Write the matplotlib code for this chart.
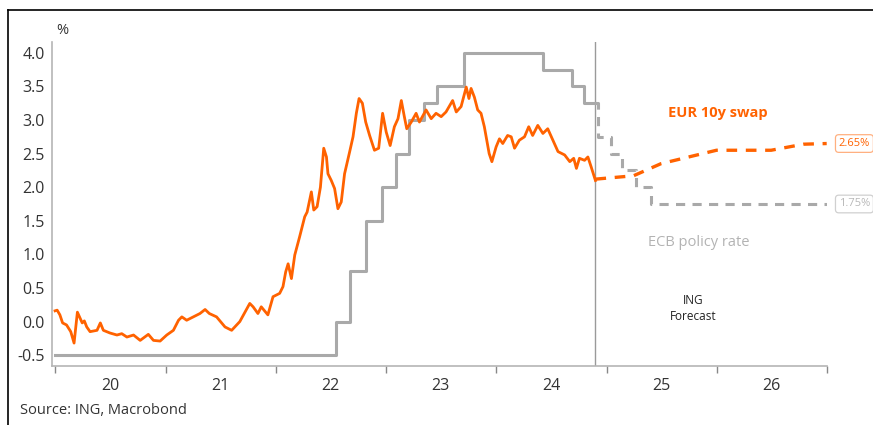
import matplotlib
matplotlib.use("Agg")
import matplotlib.pyplot as plt
import pandas as pd

plt.rcParams["font.family"] = ["Open Sans", "DejaVu Sans"]

# EUR 10y swap (history)
swap_dates = [
    "2020-01-01", "2020-01-08", "2020-01-17", "2020-01-26", "2020-02-08", "2020-02-22",
    "2020-03-04", "2020-03-15", "2020-03-24", "2020-03-31", "2020-04-07", "2020-04-15",
    "2020-04-26", "2020-05-19", "2020-05-30", "2020-06-09", "2020-07-01", "2020-07-24",
    "2020-08-09", "2020-08-26", "2020-09-17", "2020-10-09", "2020-11-05", "2020-11-22",
    "2020-12-14", "2021-01-05", "2021-01-27", "2021-02-13", "2021-02-24", "2021-03-12",
    "2021-04-03", "2021-04-25", "2021-05-12", "2021-05-26", "2021-06-19", "2021-07-17",
    "2021-08-08", "2021-09-04", "2021-10-07", "2021-10-18", "2021-11-03", "2021-11-14",
    "2021-12-06", "2021-12-23", "2022-01-14", "2022-01-25", "2022-02-03", "2022-02-11",
    "2022-02-22", "2022-03-05", "2022-03-21", "2022-04-07", "2022-04-15", "2022-04-29",
    "2022-05-07", "2022-05-18", "2022-05-29", "2022-06-09", "2022-06-18", "2022-06-23",
    "2022-07-04", "2022-07-15", "2022-07-26", "2022-08-06", "2022-08-17", "2022-09-03",
    "2022-09-14", "2022-09-25", "2022-10-04", "2022-10-15", "2022-10-26", "2022-11-08",
    "2022-11-24", "2022-12-08", "2022-12-21", "2023-01-02", "2023-01-15", "2023-01-29",
    "2023-02-10", "2023-02-21", "2023-03-03", "2023-03-11", "2023-03-26", "2023-04-11",
    "2023-04-22", "2023-05-14", "2023-05-31", "2023-06-16", "2023-07-03", "2023-07-19",
    "2023-08-10", "2023-08-22", "2023-09-07", "2023-09-24", "2023-10-03", "2023-10-10",
    "2023-10-21", "2023-11-01", "2023-11-12", "2023-11-23", "2023-12-01", "2023-12-09",
    "2023-12-18", "2024-01-01", "2024-01-12", "2024-01-23", "2024-02-08", "2024-02-20",
    "2024-03-02", "2024-03-18", "2024-04-04", "2024-04-18", "2024-05-01", "2024-05-18",
    "2024-06-04", "2024-06-20", "2024-07-07", "2024-07-24", "2024-08-15", "2024-09-01",
    "2024-09-14", "2024-09-23", "2024-10-03", "2024-10-20", "2024-10-31", "2024-11-11",
    "2024-11-25",
]
swap_values = [
    0.16, 0.17, 0.10, -0.02, -0.05, -0.15,
    -0.32, 0.14, 0.05, -0.02, 0.01, -0.08,
    -0.15, -0.13, -0.02, -0.13, -0.17, -0.20,
    -0.18, -0.23, -0.20, -0.28, -0.19, -0.28,
    -0.29, -0.20, -0.13, 0.02, 0.07, 0.02,
    0.07, 0.12, 0.18, 0.12, 0.07, -0.08,
    -0.13, 0.00, 0.27, 0.22, 0.12, 0.22,
    0.10, 0.37, 0.42, 0.52, 0.74, 0.86,
    0.64, 0.99, 1.26, 1.56, 1.63, 1.93,
    1.66, 1.71, 2.00, 2.58, 2.45, 2.20,
    2.10, 1.98, 1.68, 1.78, 2.20, 2.53,
    2.75, 3.10, 3.32, 3.25, 2.97, 2.77,
    2.55, 2.58, 3.10, 2.82, 2.62, 2.90,
    3.02, 3.29, 3.05, 2.87, 2.97, 3.10,
    2.97, 3.15, 3.02, 3.10, 3.05, 3.12,
    3.29, 3.12, 3.20, 3.49, 3.32, 3.47,
    3.34, 3.15, 3.10, 2.90, 2.70, 2.50,
    2.38, 2.60, 2.72, 2.65, 2.77, 2.75,
    2.58, 2.70, 2.75, 2.90, 2.77, 2.92,
    2.80, 2.87, 2.70, 2.53, 2.48, 2.38,
    2.43, 2.28, 2.43, 2.40, 2.45, 2.30,
    2.10,
]

# EUR 10y swap (ING forecast)
swap_fc_dates = ["2024-11-25", "2025-03-31", "2025-06-30", "2025-09-30", "2025-12-31",
                 "2026-06-30", "2026-10-15", "2026-12-31"]
swap_fc_values = [2.12, 2.17, 2.35, 2.45, 2.55, 2.55, 2.64, 2.65]

# ECB deposit rate (history, step changes)
ecb_dates = ["2020-01-01", "2022-07-20", "2022-09-05", "2022-10-28", "2022-12-18",
             "2023-02-05", "2023-03-20", "2023-05-08", "2023-06-18", "2023-09-15",
             "2024-06-05", "2024-09-10", "2024-10-18", "2024-11-25"]
ecb_values = [-0.5, 0.0, 0.75, 1.5, 2.0, 2.5, 3.0, 3.25, 3.5, 4.0, 3.75, 3.5, 3.25, 3.25]

# ECB deposit rate (ING forecast)
ecb_fc_dates = ["2024-11-25", "2024-12-02", "2025-01-17", "2025-02-22", "2025-04-10",
                "2025-05-27", "2026-12-31"]
ecb_fc_values = [3.25, 2.75, 2.5, 2.25, 2.0, 1.75, 1.75]

forecast_start = "2024-11-25"
years = [2020, 2021, 2022, 2023, 2024, 2025, 2026]
yticks = [-0.5, 0.0, 0.5, 1.0, 1.5, 2.0, 2.5, 3.0, 3.5, 4.0]

ORANGE = "#ff6200"
GREY = "#a9a9a9"
TXT = "#333333"

fig = plt.figure(figsize=(8.73, 4.25), dpi=100)
ax = fig.add_axes([0.0596, 0.139, 0.8877, 0.762])

d = pd.to_datetime
ax.step(d(ecb_dates), ecb_values, where="post", color=GREY, lw=2.2, zorder=2)
ax.step(d(ecb_fc_dates), ecb_fc_values, where="post", color=GREY, lw=2.2,
        dashes=(3.0, 2.4), zorder=2)
ax.plot(d(swap_dates), swap_values, color=ORANGE, lw=2.0, zorder=3)
ax.plot(d(swap_fc_dates), swap_fc_values, color=ORANGE, lw=2.4, dashes=(3.2, 2.6), zorder=3)

ax.axvline(d(forecast_start), color="#9a9a9a", lw=1.0, zorder=1)

ax.set_xlim(d("2019-12-22"), d("2027-01-01"))
ax.set_ylim(-0.66, 4.16)

ax.set_yticks(yticks)
ax.set_yticklabels([f"{v:.1f}" for v in yticks])
ax.tick_params(axis="y", length=0, pad=5, labelsize=11.5, labelcolor=TXT)

ax.set_xticks(d([f"{y}-01-01" for y in years + [2027]]))
ax.set_xticklabels([])
ax.set_xticks(d([f"{y}-07-02" for y in years]), minor=True)
ax.set_xticklabels([str(y)[2:] for y in years], minor=True)
ax.tick_params(axis="x", which="major", length=5, width=1, color="#888888")
ax.tick_params(axis="x", which="minor", length=0, pad=9, labelsize=11.5, labelcolor=TXT)

for s in ["top", "right"]:
    ax.spines[s].set_visible(False)
for s in ["left", "bottom"]:
    ax.spines[s].set_color("#b5b5b5")
    ax.spines[s].set_linewidth(1.2)

# labels
ax.text(d("2026-01-05"), 3.10, "EUR 10y swap", color=ORANGE, fontsize=10.5,
        fontweight="bold", ha="center", va="center")
ax.text(d("2025-11-01"), 1.18, "ECB policy rate", color="#b3b3b3", fontsize=10.5,
        ha="center", va="center")
ax.text(d("2025-10-15"), 0.2, "ING\nForecast", color="#222222", fontsize=8.5,
        ha="center", va="center", linespacing=1.3)

# end-value callouts
ax.annotate(f"{swap_fc_values[-1]:.2f}%", xy=(1.0, swap_fc_values[-1]),
            xycoords=("axes fraction", "data"), xytext=(8.5, 0), textcoords="offset points",
            color=ORANGE, fontsize=8, va="center", ha="left", annotation_clip=False,
            bbox=dict(boxstyle="round,pad=0.3,rounding_size=0.3", fc="white",
                      ec="#ffb080", lw=0.9))
ax.annotate(f"{ecb_fc_values[-1]:.2f}%", xy=(1.0, ecb_fc_values[-1]),
            xycoords=("axes fraction", "data"), xytext=(8.5, 0), textcoords="offset points",
            color="#b8b8b8", fontsize=8, va="center", ha="left", annotation_clip=False,
            bbox=dict(boxstyle="round,pad=0.3,rounding_size=0.3", fc="white",
                      ec="#d0d0d0", lw=0.9))

fig.text(0.064, 0.928, "%", fontsize=10.5, color=TXT, ha="left", va="center")
fig.text(0.023, 0.033, "Source: ING, Macrobond", fontsize=10.5, color=TXT,
         ha="left", va="center")

# outer frame (left and top edges visible)
fig.add_artist(plt.Line2D([0.0092, 0.0092], [0, 0.976], color="black", lw=1.2,
                          transform=fig.transFigure))
fig.add_artist(plt.Line2D([0.0092, 1.0], [0.976, 0.976], color="black", lw=1.2,
                          transform=fig.transFigure))

fig.savefig("out.png", dpi=100)
